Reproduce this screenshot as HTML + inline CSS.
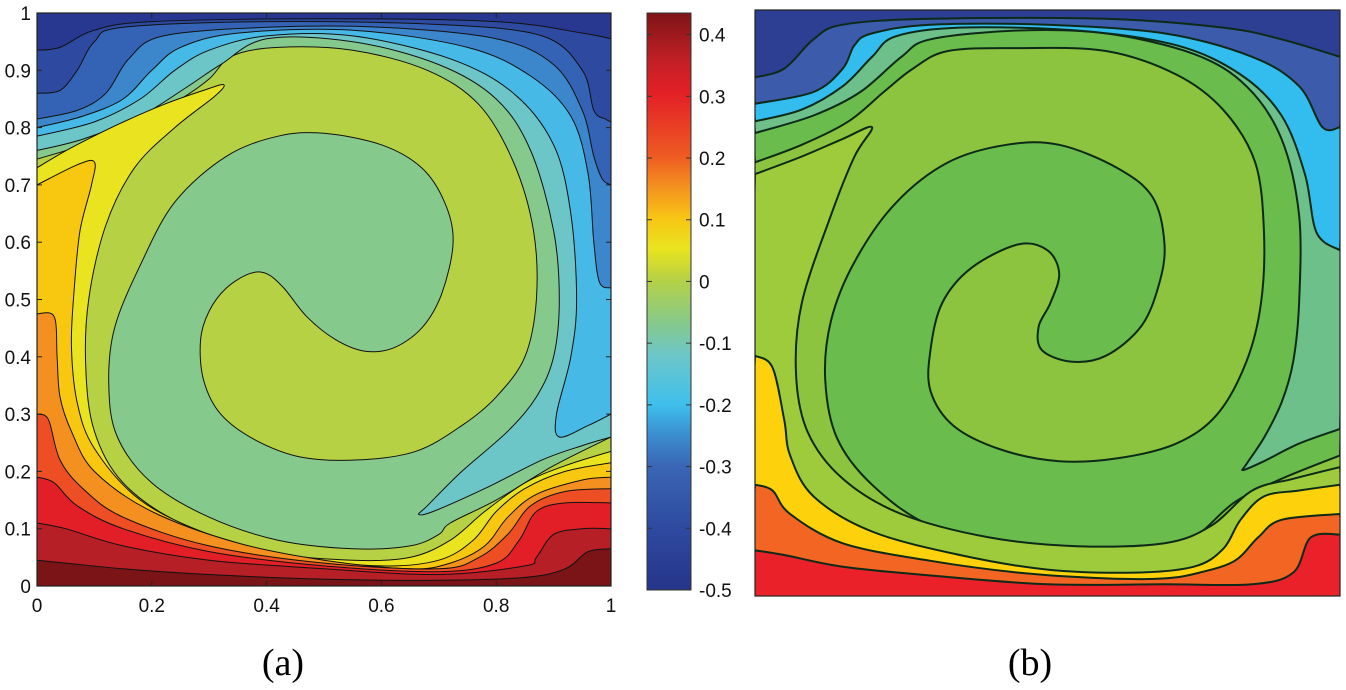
<!DOCTYPE html>
<html><head><meta charset="utf-8"><style>
html,body{margin:0;padding:0;background:#fff;width:1346px;height:690px;overflow:hidden}
svg{display:block}
text{font-family:"Liberation Sans",Arial,sans-serif}
</style></head><body>
<svg id="fig" width="1346" height="690" viewBox="0 0 1346 690">
<defs>
<linearGradient id="jet" x1="0" y1="1" x2="0" y2="0">
<stop offset="0" stop-color="#263589"/><stop offset="0.107" stop-color="#2e4aa0"/><stop offset="0.215" stop-color="#3a66b5"/>
<stop offset="0.27" stop-color="#3b8fd0"/><stop offset="0.322" stop-color="#3fc0ec"/><stop offset="0.408" stop-color="#6dc6c8"/>
<stop offset="0.462" stop-color="#86c98c"/><stop offset="0.538" stop-color="#b6d144"/><stop offset="0.591" stop-color="#e9e41f"/>
<stop offset="0.645" stop-color="#f8c515"/><stop offset="0.699" stop-color="#f4911f"/><stop offset="0.753" stop-color="#ee5a23"/>
<stop offset="0.86" stop-color="#e32026"/><stop offset="0.914" stop-color="#c42026"/><stop offset="1" stop-color="#7e1416"/>
</linearGradient>
</defs>
<g id="pa"></g>
<g id="pb"></g>
<g id="cb"></g>
<text x="283" y="675" font-size="38" text-anchor="middle" style="font-family:'Liberation Serif',serif">(a)</text>
<text x="1030" y="675" font-size="38" text-anchor="middle" style="font-family:'Liberation Serif',serif">(b)</text>
</svg>
<script>
// ---- axis ticks and colorbar data ----
const xTicks = [0, 0.2, 0.4, 0.6, 0.8, 1];
const xTickLabels = ["0", "0.2", "0.4", "0.6", "0.8", "1"];
const yTicks = [0, 0.1, 0.2, 0.3, 0.4, 0.5, 0.6, 0.7, 0.8, 0.9, 1];
const yTickLabels = ["0", "0.1", "0.2", "0.3", "0.4", "0.5", "0.6", "0.7", "0.8", "0.9", "1"];
const cbTicks = [0.4, 0.3, 0.2, 0.1, 0, -0.1, -0.2, -0.3, -0.4, -0.5];
const cbTickLabels = ["0.4", "0.3", "0.2", "0.1", "0", "-0.1", "-0.2", "-0.3", "-0.4", "-0.5"];
const cbRange = [-0.5, 0.435];

// ---- panel (a) contour data (normalized x,y) ----
const aMid = [[0,.745],[.08,.77],[.17,.81],[.25,.85],[.3,.885],[.34,.925],[.42,.94],[.55,.935],[.68,.9],[.77,.84],[.83,.74],[.865,.62],[.87,.5],[.85,.4],[.8,.33],[.74,.28],[.66,.235],[.56,.22],[.46,.225],[.38,.255],[.32,.3],[.29,.36],[.285,.43],[.3,.48],[.33,.52],[.37,.545],[.4,.545],[.43,.52],[.47,.47],[.52,.43],[.57,.41],[.62,.415],[.67,.45],[.705,.51],[.725,.6],[.71,.67],[.67,.73],[.6,.77],[.5,.79],[.42,.785],[.33,.75],[.24,.67],[.18,.56],[.135,.45],[.125,.35],[.14,.26],[.2,.18],[.3,.12],[.42,.08],[.55,.065],[.65,.07],[.7,.09],[.72,.11],[.8,.15],[.9,.21],[1,.26]];
const aTop = [
 [[0,.76],[.08,.78],[.18,.82],[.26,.87],[.32,.91],[.4,.955],[.55,.95],[.7,.91],[.8,.85],[.86,.76],[.9,.62],[.91,.5],[.9,.4],[.87,.33],[.82,.27],[.74,.2],[.68,.14],[.665,.125],[.69,.13],[.78,.17],[.88,.22],[.95,.245],[1,.26]],
 [[0,.785],[.1,.81],[.18,.85],[.24,.9],[.3,.935],[.4,.96],[.55,.96],[.72,.92],[.83,.86],[.9,.77],[.93,.65],[.94,.5],[.93,.4],[.905,.3],[.91,.26],[.96,.28],[1,.30]],
 [[0,.80],[.08,.82],[.15,.85],[.2,.9],[.25,.94],[.35,.965],[.55,.97],[.75,.94],[.86,.89],[.93,.82],[.96,.72],[.97,.6],[.98,.53],[1,.52]],
 [[0,.815],[.07,.83],[.12,.86],[.16,.92],[.22,.96],[.4,.975],[.6,.975],[.8,.955],[.9,.91],[.95,.83],[.97,.75],[.985,.71],[1,.70]],
 [[0,.86],[.04,.865],[.07,.9],[.1,.95],[.15,.975],[.4,.985],[.7,.98],[.88,.96],[.95,.9],[.97,.83],[.99,.815],[1,.81]],
 [[0,.935],[.04,.94],[.1,.97],[.2,.985],[.5,.99],[.8,.985],[.95,.965],[1,.955]]
];
const aTopColors = ["#6cc5c7","#47b9e6","#3c86cb","#3463b5","#2d4aa0","#283891"];
const aBot = [
 [[0,.73],[.06,.765],[.14,.805],[.22,.84],[.29,.865],[.325,.875],[.31,.855],[.24,.8],[.17,.73],[.12,.63],[.09,.5],[.085,.38],[.1,.27],[.15,.18],[.25,.11],[.4,.06],[.55,.045],[.65,.05],[.72,.08],[.78,.13],[.85,.18],[.92,.21],[1,.235]],
 [[0,.70],[.07,.735],[.1,.74],[.095,.7],[.075,.62],[.065,.52],[.06,.42],[.07,.32],[.1,.24],[.18,.15],[.3,.09],[.45,.05],[.6,.035],[.7,.045],[.76,.08],[.8,.13],[.85,.17],[.92,.2],[1,.215]],
 [[0,.475],[.03,.47],[.035,.4],[.04,.33],[.06,.27],[.1,.2],[.2,.13],[.35,.075],[.5,.045],[.65,.03],[.72,.04],[.78,.07],[.82,.12],[.87,.16],[.95,.185],[1,.19]],
 [[0,.30],[.02,.29],[.04,.22],[.08,.17],[.15,.12],[.3,.07],[.5,.04],[.7,.03],[.77,.05],[.82,.09],[.86,.14],[.92,.165],[1,.17]],
 [[0,.19],[.03,.18],[.07,.14],[.15,.1],[.3,.06],[.5,.035],[.7,.025],[.8,.04],[.84,.08],[.87,.13],[.92,.145],[1,.145]],
 [[0,.11],[.05,.1],[.15,.07],[.3,.045],[.5,.03],[.7,.02],[.85,.035],[.87,.05],[.9,.09],[.95,.1],[1,.1]],
 [[0,.045],[.05,.04],[.15,.03],[.3,.02],[.5,.012],[.7,.01],[.85,.015],[.92,.03],[.96,.06],[1,.065]]
];
const aBotColors = ["#e9e41f","#f8c70f","#f4901f","#ee4e24","#e21e26","#b51f25","#7a1416"];

// ---- panel (b) contour data ----
const bMid = [[0,.74],[.08,.77],[.16,.81],[.22,.86],[.27,.9],[.33,.93],[.45,.935],[.6,.93],[.72,.89],[.8,.83],[.855,.74],[.87,.62],[.865,.5],[.84,.4],[.79,.31],[.72,.26],[.62,.235],[.52,.23],[.42,.25],[.34,.29],[.3,.35],[.3,.42],[.32,.5],[.37,.56],[.45,.6],[.5,.59],[.52,.55],[.505,.5],[.485,.46],[.49,.42],[.54,.4],[.6,.41],[.66,.46],[.69,.53],[.7,.6],[.68,.68],[.62,.73],[.52,.77],[.43,.77],[.33,.74],[.24,.67],[.17,.57],[.13,.47],[.12,.37],[.14,.27],[.2,.19],[.3,.12],[.45,.08],[.6,.07],[.68,.08],[.75,.1],[.82,.16],[.9,.2],[1,.24]];
const bTop = [
 [[0,.79],[.1,.82],[.18,.86],[.25,.92],[.3,.95],[.45,.965],[.6,.96],[.75,.925],[.84,.87],[.9,.78],[.93,.65],[.93,.5],[.92,.4],[.9,.33],[.87,.27],[.84,.225],[.835,.215],[.87,.23],[.93,.26],[1,.285]],
 [[0,.81],[.08,.83],[.15,.87],[.2,.92],[.24,.955],[.35,.97],[.55,.965],[.72,.94],[.83,.89],[.9,.82],[.94,.72],[.96,.62],[1,.59]],
 [[0,.84],[.1,.86],[.15,.9],[.17,.94],[.2,.96],[.3,.975],[.5,.975],[.7,.96],[.85,.92],[.93,.87],[.97,.8],[1,.8]],
 [[0,.885],[.05,.9],[.1,.95],[.15,.975],[.3,.985],[.6,.985],[.8,.97],[.9,.95],[1,.92]]
];
const bTopColors = ["#6dc08a","#33bdee","#3c5bab","#2c3f93"];
const bBot = [
 [[0,.72],[.08,.75],[.15,.78],[.2,.8],[.17,.75],[.13,.65],[.08,.5],[.07,.38],[.09,.28],[.15,.2],[.25,.14],[.4,.1],[.55,.085],[.7,.09],[.78,.12],[.85,.18],[.92,.2],[1,.22]],
 [[0,.41],[.03,.39],[.05,.3],[.06,.24],[.1,.17],[.2,.11],[.35,.07],[.5,.045],[.65,.04],[.75,.05],[.8,.08],[.83,.13],[.87,.17],[.93,.18],[1,.19]],
 [[0,.19],[.03,.18],[.06,.14],[.15,.09],[.3,.06],[.45,.04],[.6,.03],[.7,.03],[.76,.04],[.82,.06],[.86,.1],[.9,.13],[1,.14]],
 [[0,.078],[.05,.07],[.15,.05],[.3,.035],[.5,.02],[.7,.02],[.85,.02],[.92,.04],[.95,.1],[1,.105]]
];
const bBotColors = ["#9ecb3b","#fdd10b","#f26522","#ea2128"];

const NS = "http://www.w3.org/2000/svg";
function mk(tag, attrs, parent){ const e=document.createElementNS(NS,tag); for(const k in attrs) e.setAttribute(k,attrs[k]); parent.appendChild(e); return e; }

// Catmull-Rom smoothed path through points (pixel coords), then straight closure corners
function smoothPath(P, corners){
  let d = "M"+P[0][0].toFixed(1)+","+P[0][1].toFixed(1);
  for(let i=0;i<P.length-1;i++){
    const p0=P[Math.max(0,i-1)], p1=P[i], p2=P[i+1], p3=P[Math.min(P.length-1,i+2)];
    const t=0.5/3;
    const c1=[p1[0]+(p2[0]-p0[0])*t, p1[1]+(p2[1]-p0[1])*t];
    const c2=[p2[0]-(p3[0]-p1[0])*t, p2[1]-(p3[1]-p1[1])*t];
    d += " C"+c1[0].toFixed(1)+","+c1[1].toFixed(1)+" "+c2[0].toFixed(1)+","+c2[1].toFixed(1)+" "+p2[0].toFixed(1)+","+p2[1].toFixed(1);
  }
  corners.forEach(c => { d += " L"+c[0].toFixed(1)+","+c[1].toFixed(1); });
  return d+" Z";
}

function drawPanel(g, box, base, mid, midColor, tops, topColors, bots, botColors, sw, lc, prefix){
  const sx = v => box.x + v*box.w;
  const sy = v => box.y + (1-v)*box.h;
  const px = arr => arr.map(p => [sx(p[0]), sy(p[1])]);
  const cp = mk("clipPath",{id:prefix+"clip"},g);
  mk("rect",{x:box.x,y:box.y,width:box.w,height:box.h},cp);
  const inner = mk("g",{"clip-path":"url(#"+prefix+"clip)"},g);
  const bg = mk("rect",{x:box.x,y:box.y,width:box.w,height:box.h,fill:base},inner);
  
  
  const m = mk("path",{d:smoothPath(px(mid),px([[1.02,1.02],[-0.02,1.02]])),fill:midColor,stroke:lc,"stroke-width":sw,"stroke-linejoin":"round"},inner);
  
  
  for(let i=0;i<tops.length;i++){
    const e = mk("path",{d:smoothPath(px(tops[i]),px([[1.02,1.02],[-0.02,1.02]])),fill:topColors[i],stroke:lc,"stroke-width":sw,"stroke-linejoin":"round"},inner);
    
    
  }
  for(let i=0;i<bots.length;i++){
    const e = mk("path",{d:smoothPath(px(bots[i]),px([[1.02,-0.02],[-0.02,-0.02]])),fill:botColors[i],stroke:lc,"stroke-width":sw,"stroke-linejoin":"round"},inner);
    
    
  }
  const fr = mk("rect",{x:box.x,y:box.y,width:box.w,height:box.h,fill:"none",stroke:"#222","stroke-width":1.2},g);
  
  
  return {sx, sy};
}

// panel a
const boxA = {x:37,y:13,w:574,h:573};
const ga = document.getElementById("pa");
const A = drawPanel(ga, boxA, "#b6d144", aMid, "#86c98c", aTop, aTopColors, aBot, aBotColors, 1, "#111", "a-");
for(let i=0;i<xTicks.length;i++){
  const x = A.sx(xTicks[i]);
  mk("line",{x1:x,y1:boxA.y+boxA.h,x2:x,y2:boxA.y+boxA.h-5,stroke:"#222","stroke-width":1},ga);
  mk("line",{x1:x,y1:boxA.y,x2:x,y2:boxA.y+5,stroke:"#222","stroke-width":1},ga);
  const t = mk("text",{x:x,y:612,"font-size":19,"text-anchor":"middle",fill:"#111"},ga);
  t.textContent = xTickLabels[i];
  
  
}
for(let i=0;i<yTicks.length;i++){
  const y = A.sy(yTicks[i]);
  mk("line",{x1:boxA.x,y1:y,x2:boxA.x+5,y2:y,stroke:"#222","stroke-width":1},ga);
  mk("line",{x1:boxA.x+boxA.w,y1:y,x2:boxA.x+boxA.w-5,y2:y,stroke:"#222","stroke-width":1},ga);
  const t = mk("text",{x:31,y:y+7,"font-size":19,"text-anchor":"end",fill:"#111"},ga);
  t.textContent = yTickLabels[i];
  
  
}

// panel b
const boxB = {x:755,y:10,w:585,h:586};
const gb = document.getElementById("pb");
drawPanel(gb, boxB, "#8cc43f", bMid, "#6abd4d", bTop, bTopColors, bBot, bBotColors, 2, "#0d2a18", "b-");

// colorbar
const cb = document.getElementById("cb");
const cbBox = {x:647,y:13,w:44,h:577};
const cy = v => cbBox.y + (cbRange[1]-v)/(cbRange[1]-cbRange[0])*cbBox.h;
const bar = mk("rect",{x:cbBox.x,y:cbBox.y,width:cbBox.w,height:cbBox.h,fill:"url(#jet)",stroke:"#333","stroke-width":1},cb);


for(let i=0;i<cbTicks.length;i++){
  const y = cy(cbTicks[i]);
  mk("line",{x1:cbBox.x,y1:y,x2:cbBox.x+5,y2:y,stroke:"#333","stroke-width":1},cb);
  mk("line",{x1:cbBox.x+cbBox.w,y1:y,x2:cbBox.x+cbBox.w-5,y2:y,stroke:"#333","stroke-width":1},cb);
  const t = mk("text",{x:699,y:y+7,"font-size":19,fill:"#111"},cb);
  t.textContent = cbTickLabels[i];
  
  
}
</script>
</body></html>
